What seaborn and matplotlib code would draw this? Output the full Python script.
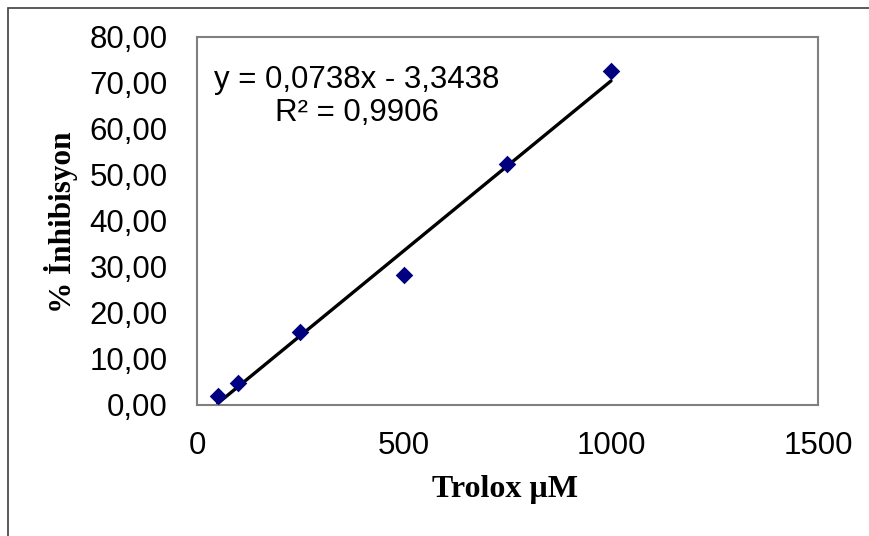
import matplotlib
matplotlib.use("Agg")
import matplotlib.pyplot as plt
import seaborn as sns
import pandas as pd
import numpy as np
from matplotlib.patches import Rectangle

# Data
trolox_uM = [50, 100, 250, 500, 750, 1000]
inhibition = [2.0, 4.8, 15.9, 28.3, 52.3, 72.6]
slope = 0.0738
intercept = -3.3438
r_squared = 0.9906
x_ticks = [0, 500, 1000, 1500]
y_ticks = [0, 10, 20, 30, 40, 50, 60, 70, 80]

df = pd.DataFrame({"x": trolox_uM, "y": inhibition})
fit_x = [min(trolox_uM), max(trolox_uM)]
fit_df = pd.DataFrame({"x": fit_x, "y": [slope * v + intercept for v in fit_x]})

sns.set_theme(style="white")
plt.rcParams["font.family"] = ["Liberation Sans", "DejaVu Sans"]
plt.rcParams["text.color"] = "black"
plt.rcParams["axes.labelcolor"] = "black"

W, H = 870, 536
fig = plt.figure(figsize=(W / 100, H / 100), dpi=100)
ax = fig.add_axes([197 / W, 1 - 405 / H, (818 - 197) / W, (405 - 37) / H])

sns.lineplot(data=fit_df, x="x", y="y", ax=ax, color="black", linewidth=2.4, zorder=2)
sns.scatterplot(data=df, x="x", y="y", ax=ax, marker="D", s=80, color="#000080",
                edgecolor="#000080", linewidth=0, zorder=3)

ax.set_xlim(0, 1500)
ax.set_ylim(0, 80)
ax.set_xticks(x_ticks)
ax.set_yticks(y_ticks)
ax.set_xticklabels([str(v) for v in x_ticks])
ax.set_yticklabels([f"{v:.2f}".replace(".", ",") for v in y_ticks])
ax.tick_params(axis="both", length=0, labelsize=22.5, colors="black")
ax.tick_params(axis="x", pad=19)
ax.tick_params(axis="y", pad=21)

for s in ax.spines.values():
    s.set_color("#808080")
    s.set_linewidth(1.5)
    s.set_visible(True)

serif = ["Liberation Serif", "DejaVu Serif"]
ax.set_xlabel("Trolox µM", fontsize=23, fontweight="bold", family=serif, color="black")
ax.set_ylabel("% İnhibisyon", fontsize=22.5, fontweight="bold", family=serif, color="black")
ax.xaxis.label.set_va("center")
ax.yaxis.label.set_va("center")
ax.yaxis.set_label_coords((61 - 197) / (818 - 197), (405 - 222) / (405 - 37))
ax.xaxis.set_label_coords((505 - 197) / (818 - 197), -(489 - 405) / (405 - 37))

eq = f"y = {slope:.4f}x - {abs(intercept):.4f}".replace(".", ",")
r2 = f"R² = {r_squared:.4f}".replace(".", ",")
fig.text(357 / W, 1 - 80 / H, eq, ha="center", va="center", fontsize=22.5, color="black")
fig.text(357 / W, 1 - 113 / H, r2, ha="center", va="center", fontsize=22.5, color="black")

# Outer chart frame (extends beyond the image at right and bottom)
fig.patches.append(Rectangle((8 / W, -0.1), 1.2, 1 - 8 / H + 0.1, transform=fig.transFigure,
                             fill=False, edgecolor="#404040", linewidth=1.2))

fig.savefig("out.png", dpi=100)
